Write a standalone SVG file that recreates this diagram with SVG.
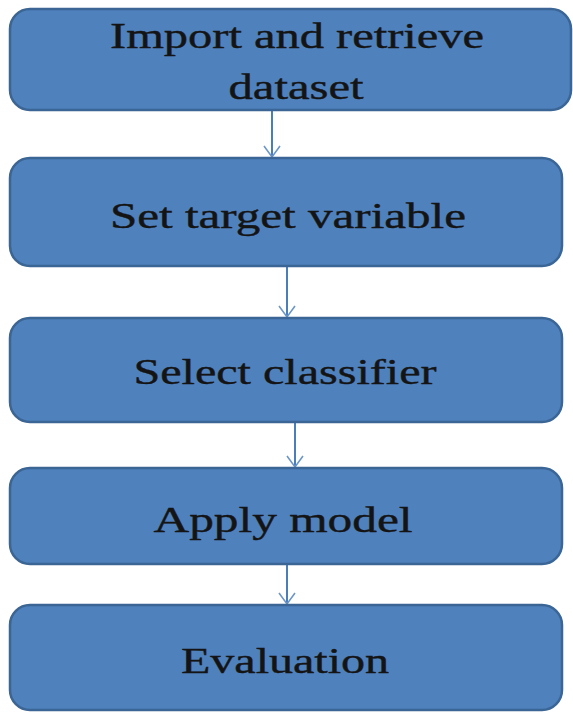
<svg xmlns="http://www.w3.org/2000/svg" width="573" height="712" viewBox="0 0 573 712">
<style>
.box{fill:#4F81BD;stroke:#3A6595;stroke-width:2.5}
.lbl{font-family:"Liberation Serif","Times New Roman",serif;font-size:36px;fill:#141414;stroke:#141414;stroke-width:0.4;text-anchor:middle}
.edge{stroke:#4A7EBB;stroke-width:2;fill:none}
</style>
<defs>
<marker id="arr" viewBox="-12 -12 24 24" markerWidth="24" markerHeight="24" refX="0" refY="0" orient="auto" markerUnits="userSpaceOnUse">
<path d="M-11,-8 L0,0 L-11,8" fill="none" stroke="#6B96C8" stroke-width="1.6"/>
</marker>
</defs>
<rect width="573" height="712" fill="#ffffff"/>
<g id="connectors">
<line class="edge" x1="272" y1="110" x2="272" y2="157" marker-end="url(#arr)"/>
<line class="edge" x1="287" y1="266" x2="287" y2="317" marker-end="url(#arr)"/>
<line class="edge" x1="295" y1="422" x2="295" y2="467" marker-end="url(#arr)"/>
<line class="edge" x1="287" y1="564" x2="287" y2="604" marker-end="url(#arr)"/>
</g>
<g id="n1">
<rect class="box" x="10" y="9" width="561" height="101" rx="20"/>
<text class="lbl" x="297" y="48" textLength="374" lengthAdjust="spacingAndGlyphs">Import and retrieve</text>
<text class="lbl" x="296" y="99" textLength="135" lengthAdjust="spacingAndGlyphs">dataset</text>
</g>
<g id="n2">
<rect class="box" x="10" y="158" width="552" height="108" rx="20"/>
<text class="lbl" x="288" y="228" textLength="356" lengthAdjust="spacingAndGlyphs">Set target variable</text>
</g>
<g id="n3">
<rect class="box" x="10" y="318" width="552" height="104" rx="20"/>
<text class="lbl" x="285" y="384" textLength="303" lengthAdjust="spacingAndGlyphs">Select classifier</text>
</g>
<g id="n4">
<rect class="box" x="10" y="468" width="552" height="96" rx="20"/>
<text class="lbl" x="283" y="532" textLength="259" lengthAdjust="spacingAndGlyphs">Apply model</text>
</g>
<g id="n5">
<rect class="box" x="10" y="605" width="552" height="105" rx="20"/>
<text class="lbl" x="285" y="673" textLength="208" lengthAdjust="spacingAndGlyphs">Evaluation</text>
</g>
</svg>
